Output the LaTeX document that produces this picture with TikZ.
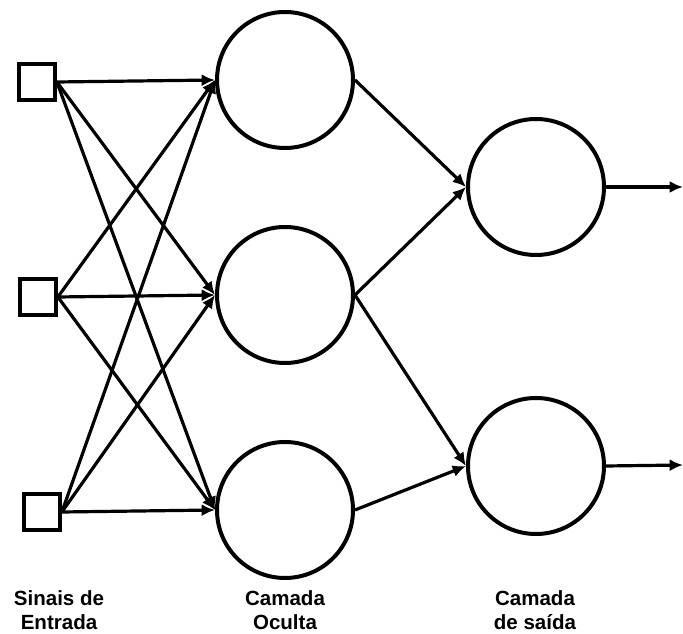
\documentclass[tikz,border=0pt]{standalone}
\usepackage{fontspec}
\setmainfont{Liberation Sans}
\usetikzlibrary{arrows.meta}
\begin{document}
\begin{tikzpicture}[x=0.75pt,y=-0.75pt,
  inbox/.style={draw,line width=2.8pt,minimum size=27pt,inner sep=0pt},
  neuron/.style={circle,draw,line width=3pt,minimum size=102pt,inner sep=0pt},
  conn/.style={line width=2.4pt,-{Latex[length=10pt,width=9pt]}},
  lab/.style={font=\fontsize{15.4}{18}\selectfont\bfseries,align=center,inner sep=0pt,anchor=base}]
\useasboundingbox (0,0) rectangle (683,634);
\node[inbox] (i1) at (37,82) {};
\node[inbox] (i2) at (38,297) {};
\node[inbox] (i3) at (42,512) {};
\node[neuron] (h1) at (285,80) {};
\node[neuron] (h2) at (285,295) {};
\node[neuron] (h3) at (285,510) {};
\node[neuron] (o1) at (536,187) {};
\node[neuron] (o2) at (536,466) {};
\coordinate (e1) at (683,187);
\coordinate (e2) at (683,465);
\foreach \i in {1,2,3}{
  \foreach \h in {1,2,3}{
    \draw[conn] (i\i.east) -- (h\h.west);
  }
}
\draw[conn] (h1.east) -- (o1.west);
\draw[conn] (h2.east) -- (o1.west);
\draw[conn] (h2.east) -- (o2.west);
\draw[conn] (h3.east) -- (o2.west);
\draw[conn] (o1.east) -- (e1);
\draw[conn] (o2.east) -- (e2);
\node[lab] (l1) at (59,630) {Sinais de\\Entrada};
\node[lab] (l2) at (285,630) {Camada\\Oculta};
\node[lab] (l3) at (535,630) {Camada\\de saída};
\end{tikzpicture}
\end{document}
